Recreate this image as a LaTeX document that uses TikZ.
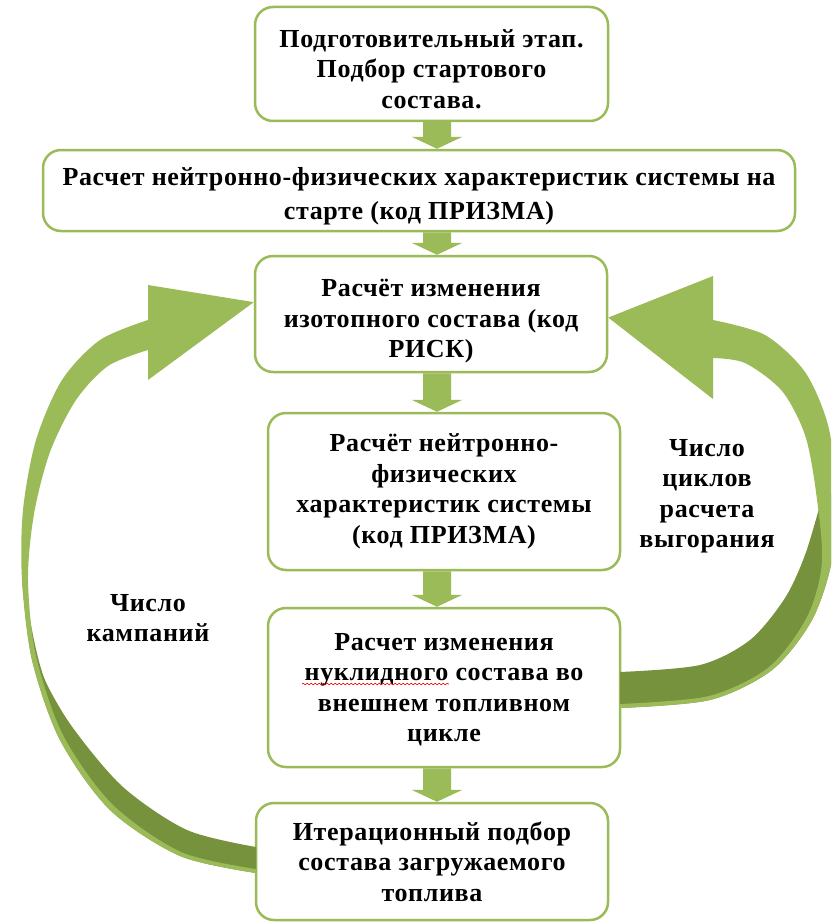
\documentclass[tikz,border=0pt]{standalone}
\usepackage{fontspec}
\setmainfont{Liberation Serif}[LetterSpace=2.5]
\usetikzlibrary{calc,decorations.pathmorphing}
\definecolor{leaf}{HTML}{9BBB59}
\definecolor{moss}{HTML}{76923C}
\newcommand{\drop}[1]{\rule{0pt}{#1}}

\begin{document}
\begin{tikzpicture}[x=1pt, y=-1pt,
    box/.style={draw=leaf, line width=2.5pt, rounded corners=18pt, fill=white, align=center, inner sep=0pt,
      font=\fontsize{26}{30.5}\selectfont\bfseries},
    note/.style={align=center, font=\fontsize{26}{30.5}\selectfont\bfseries}]
    \clip (0,0) rectangle (831,923);
    \node[box, minimum width=353pt, minimum height=114pt] (prep) at (431.5,64) {\drop{28pt}Подготовительный этап.\\Подбор стартового\\состава.};
    \node[box, minimum width=752pt, minimum height=81pt, font=\fontsize{26}{34}\selectfont\bfseries] (start) at (419,190.5) {\drop{30pt}Расчет нейтронно-физических характеристик системы на\\старте (код ПРИЗМА)};
    \node[box, minimum width=352pt, minimum height=116pt] (risk) at (431,314) {\drop{32pt}Расчёт изменения\\изотопного состава (код\\РИСК)};
    \node[box, minimum width=352pt, minimum height=157pt] (prizma) at (444,491.5) {Расчёт нейтронно-\\физических\\характеристик системы\\(код ПРИЗМА)};
    \node[box, minimum width=352pt, minimum height=159pt] (ext) at (444,687.5) {\drop{22pt}Расчет изменения\\нуклидного состава во\\внешнем топливном\\цикле};
    \node[box, minimum width=352pt, minimum height=117pt] (iter) at (432,861.5) {Итерационный подбор\\состава загружаемого\\топлива};
    \node[note] (cycles) at (707,496) {Число\\циклов\\расчета\\выгорания};
    \node[note] (camp) at (148,618) {Число\\кампаний};

    \coordinate (ax) at (437,0);
    \foreach \u/\v in {prep/start,start/risk,risk/prizma,prizma/ext,ext/iter}{
        \path (\u.south -| ax) coordinate (s) (\v.north -| ax) coordinate (e);
        \fill[leaf] ($(s)+(-14,0)$) -- ($(s)+(14,0)$) -- ($(e)+(14,-12)$) -- ($(e)+(25.5,-12)$) -- (e)
            -- ($(e)+(-25.5,-12)$) -- ($(e)+(-14,-12)$) -- cycle;
    }

    \coordinate (tipL) at ($(risk.north west)!0.4!(risk.south west)$);
    \coordinate (tipR) at ($(risk.north east)!0.53!(risk.south east)$);
    \fill[moss] plot[smooth] coordinates {(34,640) (45,680) (73,728) (123,787) (187,830) (256,847)}
        -- plot[smooth] coordinates {(256,873) (180,856) (110,810) (60,740) (32,660) (22,580)} -- cycle;
    \fill[leaf] plot[smooth] coordinates {(148,320) (100,340) (62,380) (36,440) (23,510) (22,580) (32,660) (60,740) (110,810) (180,856) (256,873)}
        -- plot[smooth] coordinates {(256,869) (181,852) (112,804) (63,735) (36,656) (28,580) (34,514) (50,452) (76,400) (108,366) (148,350)} -- cycle;
    \fill[leaf] (148,285) -- (tipL) -- (148,380) -- cycle;
    \fill[moss] plot[smooth] coordinates {(820,505) (805,555) (785,598) (750,640) (700,665) (620,672)}
        -- plot[smooth] coordinates {(620,708) (710,700) (772,670) (812,620) (832,560) (836,490)} -- cycle;
    \fill[leaf] plot[smooth] coordinates {(713,320) (765,335) (805,372) (828,425) (836,490) (832,560) (812,620) (772,670) (710,700) (620,708)}
        -- plot[smooth] coordinates {(620,704) (709,696) (769,667) (807,617) (822,562) (816,492) (805,435) (782,391) (745,363) (713,358)} -- cycle;
    \fill[leaf] (713,276) -- (tipR) -- (713,399) -- cycle;

    \draw[red, line width=0.6pt, decorate, decoration={snake, amplitude=0.8pt, segment length=4pt}] (302,684) -- (449,684);
\end{tikzpicture}
\end{document}
